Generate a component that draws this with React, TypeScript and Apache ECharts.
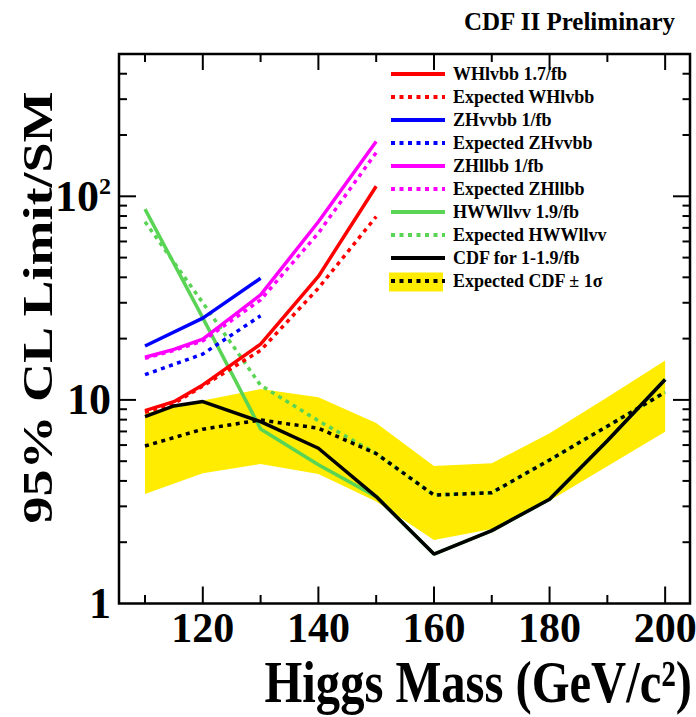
import { useEffect, useRef } from "react";
import * as echarts from "echarts";

// ---------- data ----------
const MASS_ALL = [110, 120, 130, 140, 150, 160, 170, 180, 190, 200];

const WH_MASS = [110, 115, 120, 130, 140, 150];
const WH_OBS = [8.86, 9.8, 11.85, 18.8, 40.4, 112];
const WH_EXP = [8.7, 9.6, 11.7, 17.5, 35.4, 79.5];

const ZHVV_MASS = [110, 120, 130];
const ZHVV_OBS = [18.4, 25.2, 39.6];
const ZHVV_EXP = [13.3, 16.8, 25.9];

const ZHLL_MASS = [110, 115, 120, 130, 140, 150];
const ZHLL_OBS = [16.2, 17.7, 19.9, 32.8, 75, 186];
const ZHLL_EXP = [16.0, 17.5, 19.5, 31, 66, 164];

const HWW_OBS = [86.5, 25.3, 7.2, 4.8, 3.35, 1.75, 2.28, 3.25, 6.3, 12.6];
const HWW_EXP = [75, 30, 11.8, 7.9, 5.45, 3.41, 3.5, 5.07, 7.43, 10.9];

const CDF_OBS_MASS = [110, 115, 120, 130, 140, 150, 160, 170, 180, 190, 200];
const CDF_OBS = [8.28, 9.34, 9.81, 7.82, 5.79, 3.35, 1.75, 2.28, 3.25, 6.3, 12.6];
const CDF_EXP = [5.94, 7.18, 7.97, 7.26, 5.45, 3.41, 3.5, 5.07, 7.43, 10.9];
const BAND_UP = [8.6, 9.93, 11.3, 10.3, 7.7, 4.74, 4.88, 6.86, 10.3, 15.6];
const BAND_LO = [3.45, 4.36, 4.85, 4.33, 3.17, 2.05, 2.32, 3.2, 4.72, 6.98];

const X_MAJOR = [120, 140, 160, 180, 200];
const X_MINOR = [110, 130, 150, 170, 190];
const Y_MAJOR = [1, 10, 100];
const Y_MINOR = [2, 3, 4, 5, 6, 7, 8, 9, 20, 30, 40, 50, 60, 70, 80, 90, 200, 300, 400];

const NAMES = [
  "WHlvbb 1.7/fb",
  "Expected WHlvbb",
  "ZHvvbb 1/fb",
  "Expected ZHvvbb",
  "ZHllbb 1/fb",
  "Expected ZHllbb",
  "HWWllvv 1.9/fb",
  "Expected HWWllvv",
  "CDF for 1-1.9/fb",
  "Expected CDF \u00b1 1\u03c3",
];

// ---------- style / layout ----------
const SERIF = '"Liberation Serif", "Times New Roman", serif';
const RED = "#ff0000";
const BLUE = "#0000ff";
const MAGENTA = "#ff00ff";
const GREEN = "#59d454";
const BLACK = "#000000";
const YELLOW = "#ffec00";
const DOT: number[] = [4, 4.5];
const LW = 3.5;

const W = 696;
const H = 717;
const G_LEFT = 119;
const G_RIGHT = 6;
const G_TOP = 54;
const G_BOTTOM = 113.5;

const X_MIN = 105.5;
const X_MAX = 204.3;
const Y_MIN = 1;
const Y_MAX = 500;

const pairs = (xs: number[], ys: number[]) => xs.map((x, i) => [x, ys[i]]);

function lineSeries(name: string, xs: number[], ys: number[], color: string, dotted: boolean, z = 3) {
  return {
    name,
    type: "line",
    data: pairs(xs, ys),
    symbol: "none",
    showSymbol: false,
    smooth: false,
    z,
    lineStyle: { color, width: LW, type: dotted ? DOT : "solid", cap: "butt" },
    itemStyle: { color },
    emphasis: { disabled: true },
  };
}

// tick marks (ROOT style, inward, on all four sides) using the same linear / log10 mapping as the axes
function buildTicks(): any[] {
  const gL = G_LEFT;
  const gR = W - G_RIGHT;
  const gT = G_TOP;
  const gB = H - G_BOTTOM;
  const fx = (v: number) => gL + ((v - X_MIN) / (X_MAX - X_MIN)) * (gR - gL);
  const fy = (v: number) =>
    gB - ((Math.log10(v) - Math.log10(Y_MIN)) / (Math.log10(Y_MAX) - Math.log10(Y_MIN))) * (gB - gT);
  const out: any[] = [];
  const box = (x: number, y: number, w: number, h: number) =>
    out.push({ type: "rect", z: 0, shape: { x, y, width: w, height: h }, style: { fill: BLACK } });
  const xt = (vals: number[], lenB: number, lenT: number) =>
    vals.forEach((v) => {
      const x = fx(v);
      box(x - 1, gB - lenB, 2, lenB);
      box(x - 1, gT, 2, lenT);
    });
  const yt = (vals: number[], lenL: number, lenR: number) =>
    vals.forEach((v) => {
      const y = fy(v);
      box(gL, y - 1, lenL, 2);
      box(gR - lenR, y - 1, lenR, 2);
    });
  xt(X_MAJOR, 17, 16);
  xt(X_MINOR, 8.5, 8);
  yt(Y_MAJOR.filter((v) => v > Y_MIN), 17, 17);
  yt(Y_MINOR, 8, 7.5);
  return out;
}

export default function App() {
  const ref = useRef<HTMLDivElement>(null);

  useEffect(() => {
    if (!ref.current) return;
    const chart = echarts.init(ref.current, undefined, { renderer: "svg" });

    const graphic: any[] = [
      {
        type: "rect",
        z: 0,
        shape: { x: 389, y: 272.5, width: 54, height: 19 },
        style: { fill: YELLOW },
      },
      {
        type: "text",
        x: 37.5,
        y: 307.5,
        rotation: Math.PI / 2,
        scaleY: 0.8,
        style: {
          text: "95% CL Limit/SM",
          font: `bold 54px ${SERIF}`,
          fill: BLACK,
          align: "center",
          verticalAlign: "middle",
        },
      },
      {
        type: "text",
        x: 692,
        y: 682,
        scaleX: 0.81,
        style: {
          text: "Higgs Mass (GeV/c\u00b2)",
          font: `bold 60px ${SERIF}`,
          fill: BLACK,
          align: "right",
          verticalAlign: "middle",
        },
      },
      ...buildTicks(),
    ];

    const option: any = {
      animation: false,
      backgroundColor: "#ffffff",
      title: {
        text: "CDF II Preliminary",
        right: 20,
        top: 9,
        padding: 0,
        textStyle: { fontFamily: SERIF, fontWeight: "bold", fontSize: 25, color: BLACK },
      },
      grid: {
        left: G_LEFT,
        right: G_RIGHT,
        top: G_TOP,
        bottom: G_BOTTOM,
        containLabel: false,
        outerBoundsMode: "none",
        show: true,
        borderColor: BLACK,
        borderWidth: 2.5,
        backgroundColor: "transparent",
      },
      legend: {
        data: NAMES,
        orient: "vertical",
        left: 389,
        top: 65,
        padding: 0,
        itemWidth: 54,
        itemHeight: 14,
        itemGap: 5,
        selectedMode: false,
        itemStyle: { opacity: 0 },
        lineStyle: { width: 4 },
        textStyle: { fontFamily: SERIF, fontWeight: "bold", fontSize: 18, color: BLACK, padding: [0, 0, 0, 3] },
      },
      xAxis: {
        type: "value",
        min: X_MIN,
        max: X_MAX,
        splitLine: { show: false },
        axisLine: { show: false, onZero: false },
        axisTick: { show: false },
        axisLabel: {
          show: true,
          customValues: X_MAJOR,
          margin: 3,
          fontFamily: SERIF,
          fontWeight: "bold",
          fontSize: 42,
          color: BLACK,
        },
      },
      yAxis: {
        type: "log",
        logBase: 10,
        min: Y_MIN,
        max: Y_MAX,
        splitLine: { show: false },
        axisLine: { show: false, onZero: false },
        axisTick: { show: false },
        axisLabel: {
          show: true,
          customValues: Y_MAJOR,
          margin: 8,
          formatter: (v: number) => (v >= 100 ? "{b|10}{s|2}" : `{b|${Math.round(v)}}`),
          rich: {
            b: { fontFamily: SERIF, fontWeight: "bold", fontSize: 44, color: BLACK },
            s: { fontFamily: SERIF, fontWeight: "bold", fontSize: 24, color: BLACK, verticalAlign: "top" },
          },
        },
      },
      graphic,
      series: [
        {
          name: "band",
          type: "custom",
          silent: true,
          z: 1,
          clip: false,
          data: MASS_ALL.map((m, i) => [m, BAND_LO[i], BAND_UP[i]]),
          encode: { x: 0, y: [1, 2] },
          renderItem: (params: any, api: any) => {
            if (params.dataIndex !== 0) return null;
            const pts: number[][] = [];
            for (let i = 0; i < MASS_ALL.length; i++) pts.push(api.coord([MASS_ALL[i], BAND_UP[i]]));
            for (let i = MASS_ALL.length - 1; i >= 0; i--) pts.push(api.coord([MASS_ALL[i], BAND_LO[i]]));
            return { type: "polygon", shape: { points: pts }, style: { fill: YELLOW } };
          },
        },
        lineSeries(NAMES[6], MASS_ALL, HWW_OBS, GREEN, false, 2),
        lineSeries(NAMES[7], MASS_ALL, HWW_EXP, GREEN, true, 2),
        lineSeries(NAMES[2], ZHVV_MASS, ZHVV_OBS, BLUE, false),
        lineSeries(NAMES[3], ZHVV_MASS, ZHVV_EXP, BLUE, true),
        lineSeries(NAMES[4], ZHLL_MASS, ZHLL_OBS, MAGENTA, false),
        lineSeries(NAMES[5], ZHLL_MASS, ZHLL_EXP, MAGENTA, true),
        lineSeries(NAMES[0], WH_MASS, WH_OBS, RED, false),
        lineSeries(NAMES[1], WH_MASS, WH_EXP, RED, true),
        lineSeries(NAMES[8], CDF_OBS_MASS, CDF_OBS, BLACK, false, 4),
        lineSeries(NAMES[9], MASS_ALL, CDF_EXP, BLACK, true, 4),
      ],
    };

    chart.setOption(option);
    return () => chart.dispose();
  }, []);

  return <div ref={ref} style={{ position: "absolute", left: 0, top: 0, width: W, height: H }} />;
}
